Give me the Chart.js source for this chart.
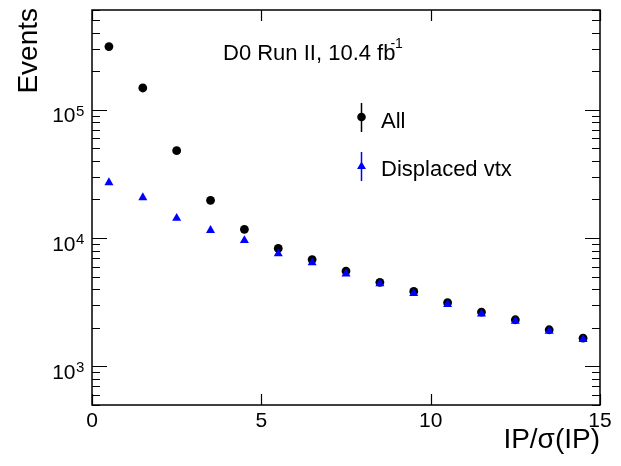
<!DOCTYPE html>
<html>
<head>
<meta charset="utf-8">
<script src="https://cdn.jsdelivr.net/npm/chart.js@4"></script>
<style>
  body { margin: 0; background: #fff; }
  canvas { display: block; }
</style>
</head>
<body>
<canvas id="ipChart" width="621" height="466"></canvas>
<script>
// bin centres of IP/sigma(IP)
var binCenters = [0.5, 1.5, 2.5, 3.5, 4.5, 5.5, 6.5, 7.5, 8.5, 9.5, 10.5, 11.5, 12.5, 13.5, 14.5]
var allEvents = [311000, 148000, 48000, 19700, 11700, 8300, 6800, 5530, 4520, 3840, 3140, 2650, 2310, 1930, 1660]
var displacedEvents = [27100, 20700, 14300, 11500, 9600, 7550, 6430, 5270, 4420, 3710, 3040, 2560, 2250, 1880, 1620]
var xTicks = [0, 5, 10, 15]
var yMajorTicks = [1000, 10000, 100000]
var yExponents = ['3', '4', '5']

var FONT = '"Liberation Sans", Arial, Helvetica, sans-serif'

function toPoints(ys) {
    return binCenters.map(function (x, i) { return { x: x, y: ys[i] } })
}

// frame, ticks, labels and legend in ROOT style
var rootStyle = {
    id: 'rootStyle',
    afterDraw: function (chart) {
        var ctx = chart.ctx
        var area = chart.chartArea
        var xs = chart.scales.x
        var ys = chart.scales.y
        ctx.save()
        ctx.strokeStyle = '#000'
        ctx.fillStyle = '#000'

        // frame
        ctx.lineWidth = 1.5
        ctx.strokeRect(area.left, area.top, area.right - area.left, area.bottom - area.top)

        // y ticks (major + minor), left and right
        ctx.lineWidth = 1.2
        for (var d = 100; d <= 1000000; d *= 10) {
            for (var m = 1; m <= 9; m++) {
                var v = d * m
                if (v < ys.min || v > ys.max) continue
                var py = Math.round(ys.getPixelForValue(v)) + 0.5
                var len = m === 1 ? 15 : 8
                ctx.beginPath()
                ctx.moveTo(area.left, py); ctx.lineTo(area.left + len, py)
                ctx.moveTo(area.right, py); ctx.lineTo(area.right - len, py)
                ctx.stroke()
            }
        }

        // x ticks, bottom and top
        xTicks.forEach(function (t) {
            var px = Math.round(xs.getPixelForValue(t)) + 0.5
            ctx.beginPath()
            ctx.moveTo(px, area.bottom); ctx.lineTo(px, area.bottom - 11)
            ctx.moveTo(px, area.top); ctx.lineTo(px, area.top + 11)
            ctx.stroke()
        })

        // x tick labels
        ctx.font = '21px ' + FONT
        ctx.textAlign = 'center'
        ctx.textBaseline = 'alphabetic'
        xTicks.forEach(function (t) {
            ctx.fillText(String(t), xs.getPixelForValue(t), 427)
        })

        // y tick labels 10^n
        yMajorTicks.forEach(function (v, i) {
            var py = ys.getPixelForValue(v)
            ctx.font = '21px ' + FONT
            ctx.textAlign = 'right'
            ctx.fillText('10', 75.5, py + 12.5)
            ctx.font = '15px ' + FONT
            ctx.textAlign = 'left'
            ctx.fillText(yExponents[i], 76, py + 6)
        })

        // axis titles
        ctx.font = '28px ' + FONT
        ctx.textAlign = 'right'
        ctx.fillText('IP/\u03c3(IP)', 600, 448)
        ctx.save()
        ctx.translate(36.5, 8)
        ctx.rotate(-Math.PI / 2)
        ctx.fillText('Events', 0, 0)
        ctx.restore()

        // experiment label
        ctx.font = '22px ' + FONT
        ctx.textAlign = 'left'
        var lbl = 'D0 Run II, 10.4 fb'
        ctx.fillText(lbl, 223, 60)
        var w = ctx.measureText(lbl).width
        ctx.font = '14px ' + FONT
        ctx.fillText('-1', 223 + w - 5, 48)

        // legend
        ctx.lineWidth = 1.5
        ctx.beginPath()
        ctx.moveTo(361.5, 103); ctx.lineTo(361.5, 132)
        ctx.stroke()
        ctx.beginPath()
        ctx.arc(361.5, 117, 4.3, 0, Math.PI * 2)
        ctx.fill()

        ctx.strokeStyle = '#0000ff'
        ctx.fillStyle = '#0000ff'
        ctx.beginPath()
        ctx.moveTo(361.5, 152); ctx.lineTo(361.5, 181)
        ctx.stroke()
        ctx.beginPath()
        ctx.moveTo(361.5, 161.5); ctx.lineTo(366, 169); ctx.lineTo(357, 169)
        ctx.closePath()
        ctx.fill()

        ctx.fillStyle = '#000'
        ctx.font = '22px ' + FONT
        ctx.fillText('All', 381, 128)
        ctx.fillText('Displaced vtx', 381, 176)
        ctx.restore()
    }
}

var ctx = document.getElementById('ipChart').getContext('2d')

new Chart(ctx, {
    type: 'scatter',
    data: {
        datasets: [
            {
                label: 'Displaced vtx',
                data: toPoints(displacedEvents),
                pointStyle: 'triangle',
                pointRadius: 5.2,
                backgroundColor: '#0000ff',
                borderColor: '#0000ff',
                borderWidth: 0,
                order: 1
            },
            {
                label: 'All',
                data: toPoints(allEvents),
                pointStyle: 'circle',
                pointRadius: 4.4,
                backgroundColor: '#000',
                borderColor: '#000',
                borderWidth: 0,
                order: 2
            }
        ]
    },
    options: {
        responsive: false,
        animation: false,
        events: [],
        layout: { padding: { left: 92, right: 21, top: 10, bottom: 61 } },
        plugins: {
            legend: { display: false },
            tooltip: { enabled: false }
        },
        scales: {
            x: {
                type: 'linear',
                min: 0,
                max: 15,
                grid: { display: false, drawTicks: false },
                border: { display: false },
                ticks: { display: false },
                afterFit: function (s) { s.height = 0 }
            },
            y: {
                type: 'logarithmic',
                min: 500,
                max: 600000,
                grid: { display: false, drawTicks: false },
                border: { display: false },
                ticks: { display: false },
                afterFit: function (s) { s.width = 0 }
            }
        }
    },
    plugins: [rootStyle]
})
</script>
</body>
</html>
